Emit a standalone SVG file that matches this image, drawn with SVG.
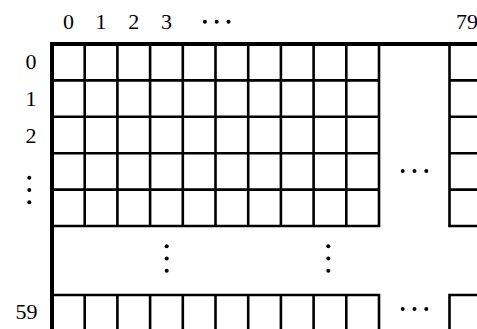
<svg xmlns="http://www.w3.org/2000/svg" width="477" height="329" viewBox="0 0 477 329">
<style>
.t{font-family:"Liberation Serif","Times New Roman",serif;font-size:22px;fill:#000}
.thin{stroke:#000;stroke-width:2.6;fill:none}
.thick{stroke:#000;stroke-width:4;fill:none}
.dot{fill:#000}
</style>
<defs>
<g id="hdots"><circle cx="-11.8" cy="0" r="2" class="dot"/><circle cx="0" cy="0" r="2" class="dot"/><circle cx="11.8" cy="0" r="2" class="dot"/></g>
<g id="vdots"><circle cx="0" cy="-12.3" r="2" class="dot"/><circle cx="0" cy="0" r="2" class="dot"/><circle cx="0" cy="12.3" r="2" class="dot"/></g>
</defs>
<g id="grid">
<path class="thin" d="M84.7 44V226M117.4 44V226M150.1 44V226M182.8 44V226M215.5 44V226M248.2 44V226M280.9 44V226M313.6 44V226M346.3 44V226M379 44V226M449.5 44V226"/>
<path class="thin" d="M52 80.4H379M52 116.8H379M52 153.2H379M52 189.6H379M52 226H380.3M449.5 80.4H477M449.5 116.8H477M449.5 153.2H477M449.5 189.6H477M448.2 226H477"/>
<path class="thin" d="M52 295H380.3M448.2 295H477M84.7 295V329M117.4 295V329M150.1 295V329M182.8 295V329M215.5 295V329M248.2 295V329M280.9 295V329M313.6 295V329M346.3 295V329M379 295V329M449.5 295V329"/>
<path class="thick" d="M50 44H477M52 42V329"/>
</g>
<g id="col-labels">
<text class="t" x="68.4" y="29" text-anchor="middle">0</text>
<text class="t" x="101" y="29" text-anchor="middle">1</text>
<text class="t" x="133.7" y="29" text-anchor="middle">2</text>
<text class="t" x="166.4" y="29" text-anchor="middle">3</text>
<use href="#hdots" x="216.7" y="21.7"/>
<text class="t" x="478" y="29" text-anchor="end">79</text>
</g>
<g id="row-labels">
<text class="t" x="36.5" y="68.5" text-anchor="end">0</text>
<text class="t" x="36.5" y="106" text-anchor="end">1</text>
<text class="t" x="36.5" y="143" text-anchor="end">2</text>
<use href="#vdots" x="29.3" y="190"/>
<text class="t" x="37.5" y="319" text-anchor="end">59</text>
</g>
<g id="ellipses">
<use href="#hdots" x="414.5" y="171"/>
<use href="#hdots" x="414.5" y="309"/>
<use href="#vdots" x="166.7" y="258.5"/>
<use href="#vdots" x="328.3" y="258.5"/>
</g>
</svg>
